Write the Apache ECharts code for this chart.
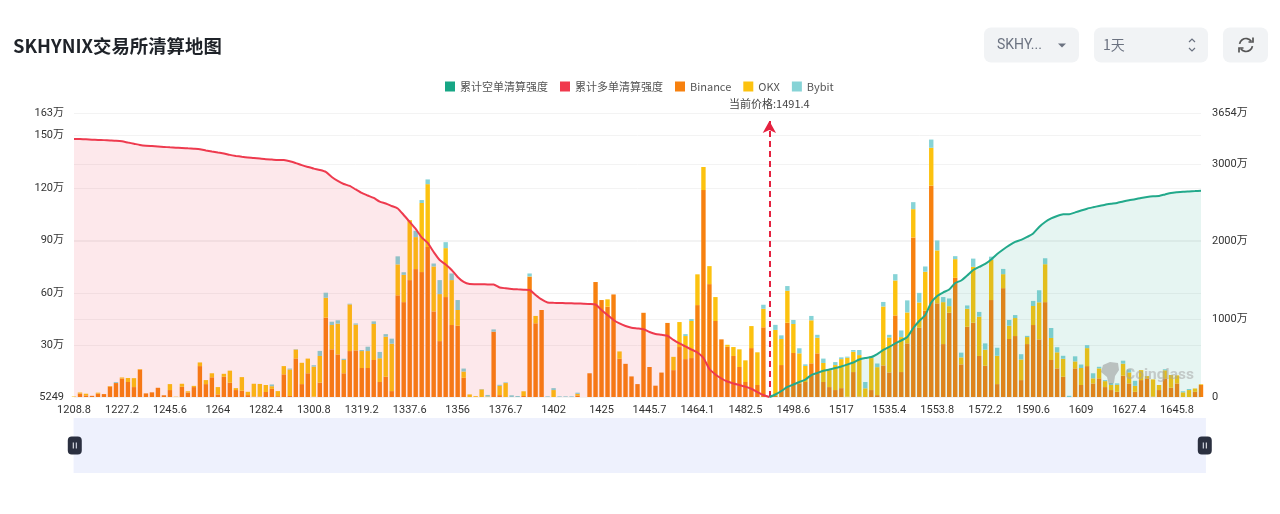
<!DOCTYPE html>
<html>
<head>
<meta charset="utf-8">
<title>SKHYNIX交易所清算地图</title>
<style>
html,body{margin:0;padding:0;background:#fff}
#chart{width:1280px;height:514px}
</style>
<script src="https://cdn.jsdelivr.net/npm/echarts@6/dist/echarts.min.js"></script>
</head>
<body>
<div id="chart"></div>
<script>
// Liquidation price levels
const prices = [
1208.8,1211.1,1213.4,1215.7,1218,1220.3,1222.6,1224.9,
1227.2,1229.5,1231.8,1234.1,1236.4,1238.7,1241,1243.3,
1245.6,1247.9,1250.2,1252.5,1254.8,1257.1,1259.4,1261.7,
1264,1266.3,1268.6,1270.9,1273.2,1275.5,1277.8,1280.1,
1282.4,1284.7,1287,1289.3,1291.6,1293.9,1296.2,1298.5,
1300.8,1303.1,1305.4,1307.7,1310,1312.3,1314.6,1316.9,
1319.2,1321.5,1323.8,1326.1,1328.4,1330.7,1333,1335.3,
1337.6,1339.9,1342.2,1344.5,1346.8,1349.1,1351.4,1353.7,
1356,1358.3,1360.6,1362.9,1365.2,1367.5,1369.8,1374.4,
1376.7,1379,1381.3,1383.6,1385.9,1390.5,1395.1,1399.7,
1402,1404.3,1406.6,1408.9,1413.5,1415.8,1420.4,1422.7,
1425,1427.3,1429.6,1431.9,1436.5,1438.8,1441.1,1443.4,
1445.7,1448,1450.3,1452.6,1454.9,1457.2,1459.5,1461.8,
1464.1,1466.4,1468.7,1471,1473.3,1475.6,1477.9,1480.2,
1482.5,1484.8,1487.1,1489.4,1491.4,1491.7,1494,1496.3,
1498.6,1500.9,1503.2,1505.5,1507.8,1510.1,1512.4,1514.7,
1517,1519.3,1521.6,1523.9,1526.2,1528.5,1530.8,1533.1,
1535.4,1537.7,1540,1542.3,1544.6,1546.9,1549.2,1551.5,
1553.8,1556.1,1558.4,1560.7,1563,1565.3,1567.6,1569.9,
1572.2,1574.5,1576.8,1579.1,1581.4,1583.7,1586,1588.3,
1590.6,1592.9,1595.2,1597.5,1599.8,1602.1,1604.4,1606.7,
1609,1611.3,1613.6,1615.9,1618.2,1620.5,1622.8,1625.1,
1627.4,1629.7,1632,1634.3,1636.6,1638.9,1641.2,1643.5,
1645.8,1648.1,1650.4,1652.7,1655
];
const currentPrice = 1491.4;
const priceMarkerTop = 3552;

// Liquidation strength per exchange, in units of 万
const binance = [
.5,2.5,1.4,1.2,2.5,2.2,6.5,8.5,11.1,9.1,6.2,16.2,2.6,3.2,5.8,1.5,4.5,.5,6.4,3.1,
6.2,18.2,7.9,11.8,2,12.1,8.7,4.5,4.1,1.6,.8,.8,3.4,5.2,1,13.5,1.1,22.6,7.9,14.1,
.7,8.7,45.9,27.8,24.9,14.1,26.8,27.2,17.1,17.1,21.7,9.1,12.1,3.9,58.7,54.8,67.4,73.7,72,86.3,
49.5,32.5,57.7,41.7,41.3,11.5,.5,.5,.5,.5,37.9,1.6,.5,.5,.5,1.1,69.3,42.7,50.3,.5,
.5,.5,.5,.5,1.4,.5,14.1,66.3,56,52.2,59.2,22.4,19.5,12.3,7.9,48.7,17.7,7,14.5,42.9,
15.9,29.1,22.2,22.8,53.1,118.9,65.1,44,33.5,29.3,24,17.7,9.1,28.5,7.4,40.4,.5,1.1,18.8,43,
25.7,8.3,9.1,19.8,25.5,9.1,6.2,4.5,5.6,.7,14.8,.8,.5,4.5,1.6,18.6,14.6,47.2,14.8,31.2,
91.8,40.1,49.9,121.4,54.1,30.8,48.7,68.7,19.2,40.7,43,24,18.4,56,7.9,62.8,33.7,35.4,10.2,30.8,
41.7,33.5,54.8,21.7,16.9,12.1,.5,16.9,7.4,18.2,8.3,11.2,6.2,4.5,3.5,12.7,8.3,3.5,10.2,11.2,
.8,4.5,11.2,5.8,8.3,.5,.5,3.5,7.4
];
const okx = [
.3,.6,1,0,.5,0,.3,.1,.6,2.3,5.1,.3,0,0,0,0,3.4,.2,1.7,.7,
.7,2.1,2.3,2.3,4.2,1.7,6.9,1.1,7.8,1.9,7.3,7.2,4,1.5,2.9,4.7,15.2,5.1,12.2,8.4,
17.2,15.3,11.4,13.9,17.6,7.6,26.7,14.7,9.7,9.7,20.6,13.6,22.9,27.1,17.7,15.6,34.3,18.3,39.5,36,
25.7,26.9,28,25.7,9,3.6,1.5,.5,4.4,.3,0,5.3,8,0,0,2.7,.2,4.2,0,0,
4,0,0,0,.9,0,0,0,0,4.2,0,4.2,0,0,0,0,0,0,0,0,
7.6,14.3,13.2,21.2,17.6,13.2,10.3,13.7,0,1.1,5.1,10.1,12.4,12.6,18.7,10.6,0,37.8,14.9,18.3,
16.6,17.2,9.2,24.6,8.9,10.9,9.7,14.3,16.6,22.3,11.6,23.7,5,18.3,16,33.7,20,20,20,17.7,
16.2,14.5,22.3,21.7,30.3,24,3.8,10.7,4,10.3,32,22.5,9.2,22.9,16.2,8,7.6,10.3,11.8,4,
10.9,21.2,21.7,12.6,9.2,10.3,0,4,9.7,10.3,2.9,5.7,3.4,2.9,4,6.9,6.3,3.4,5.7,1.3,
9.8,2.9,4.6,7.3,4.6,2.7,4,1.9,.4
];
const bybit = [
0,0,0,0,0,0,0,.5,0,0,0,0,0,0,0,0,0,0,0,0,
0,0,0,0,0,0,0,0,0,0,0,0,0,1,0,0,.5,.2,0,0,
.8,2.9,2.9,1.9,1.9,.7,.4,.7,.6,2.5,1.5,3.6,1.5,2.9,4.6,1.5,0,3.6,1.7,2.7,
1.7,8,3.4,3.8,5.7,1.7,0,0,.2,.9,1.3,.6,.4,1,.6,0,1.7,0,0,.4,
1.1,.4,.4,.4,.7,0,0,0,0,0,0,0,0,0,0,0,0,0,0,0,
0,0,1.1,1.1,0,0,0,0,0,0,0,0,0,0,0,2.3,0,2.9,2.1,2.7,
2.3,2.9,.9,2.5,1.7,2.5,0,1.7,1,.6,1,2.9,3.6,1,2.1,2.6,1.5,3.6,3.8,6.9,
4,5.5,3,4.7,5.7,2.9,4.4,1.7,2.7,1.9,4.7,2.7,3.6,1.9,4.6,3,3.3,1.7,3,.7,
2.9,6.9,3.4,5.7,2.9,1.7,.7,2.9,2,1.7,2.9,.9,.6,1.1,.8,1.7,1.7,2.9,0,0,
0,0,.6,0,0,.6,.6,0,0
];

// Cumulative long liquidation strength (left of the current price), in 万
const longCumulative = [
3320,3318,3315,3311,3308,3305,3301,3297,3290,3274,3259,3243,3233,3228,3223,3218,3212,3208,3205,3199,
3194,3188,3172,3158,3145,3133,3115,3102,3091,3082,3076,3068,3060,3055,3050,3048,3033,3009,2983,2960,
2938,2921,2896,2831,2780,2741,2716,2670,2625,2593,2561,2513,2490,2458,2426,2342,2252,2162,2053,1982,
1866,1763,1705,1634,1544,1480,1454,1452,1450,1449,1447,1409,1399,1390,1385,1381,1377,1313,1255,1216,
1212,1210,1207,1205,1203,1201,1198,1190,1120,1055,991,946,914,891,882,871,837,811,801,788,
734,689,650,611,573,502,360,290,238,199,174,154,133,106,64,26,0
];
// Cumulative short liquidation strength (right of the current price), in 万
const shortCumulative = [
0,32,77,129,161,193,225,283,309,338,354,373,393,418,444,483,502,515,553,605,
644,689,727,772,888,978,1055,1216,1300,1345,1384,1467,1499,1564,1634,1673,1712,1770,1840,1898,
1950,1995,2021,2059,2104,2188,2252,2297,2329,2351,2352,2375,2400,2423,2441,2458,2474,2486,2497,2516,
2532,2544,2561,2574,2583,2587,2606,2625,2634,2641,2645,2649,2655
];

const leftMin = 0.5249, leftMax = 163, rightMax = 3654;
const leftTicks = [leftMin, 30, 60, 90, 120, 150, leftMax];
const rightTicks = [0, 1000, 2000, 3000, rightMax];

const tickFont = 'Roboto, "Noto Sans CJK SC", sans-serif';
const labelColor = '#333';
const categories = prices.map(String);
const shortPadded = new Array(prices.length - shortCumulative.length).fill(null).concat(shortCumulative);

const leftLabel = v => v < 1 ? String(Math.round(v * 10000)) : v + '万';
const rightLabel = v => v === 0 ? '0' : v + '万';

const barSeries = (name, data, color) => ({
  name, type: 'bar', stack: 'exchanges', yAxisIndex: 0, data,
  barWidth: 4.4, itemStyle: { color }, z: 2, animation: false
});
const splitLine = { show: true, lineStyle: { color: '#f3f3f3', width: 1 } };

// Toolbar controls above the chart
const controlBg = '#f1f3f5', controlText = '#6b7280';
const toolbar = [
  { type: 'rect', shape: { x: 984, y: 27.5, width: 95, height: 35, r: 7 }, style: { fill: controlBg } },
  { type: 'text', style: { x: 997, y: 45, text: 'SKHY...', fill: controlText, font: '14px Roboto, sans-serif', verticalAlign: 'middle' } },
  { type: 'polygon', shape: { points: [[1058, 43.5], [1066, 43.5], [1062, 47.5]] }, style: { fill: '#6b7280' } },
  { type: 'rect', shape: { x: 1094, y: 27.5, width: 114, height: 35, r: 7 }, style: { fill: controlBg } },
  { type: 'text', style: { x: 1103, y: 45, text: '1天', fill: controlText, font: '14px "Noto Sans CJK SC", sans-serif', verticalAlign: 'middle' } },
  { type: 'polyline', shape: { points: [[1189, 42], [1192, 39], [1195, 42]] }, style: { stroke: '#6b7280', fill: 'none', lineWidth: 1.2 } },
  { type: 'polyline', shape: { points: [[1189, 48], [1192, 51], [1195, 48]] }, style: { stroke: '#6b7280', fill: 'none', lineWidth: 1.2 } },
  { type: 'rect', shape: { x: 1223, y: 27.5, width: 45, height: 35, r: 7 }, style: { fill: controlBg } },
  // Refresh icon: two arcs with arrow heads
  { type: 'arc', shape: { cx: 1246, cy: 45, r: 6.5, startAngle: Math.PI * 1.05, endAngle: Math.PI * 1.8 }, style: { stroke: '#555', fill: 'none', lineWidth: 1.7 } },
  { type: 'arc', shape: { cx: 1246, cy: 45, r: 6.5, startAngle: Math.PI * 0.05, endAngle: Math.PI * 0.8 }, style: { stroke: '#555', fill: 'none', lineWidth: 1.7 } },
  { type: 'polyline', shape: { points: [[1253, 37.5], [1253, 42], [1248.5, 42]] }, style: { stroke: '#555', fill: 'none', lineWidth: 1.7 } },
  { type: 'polyline', shape: { points: [[1239, 52.5], [1239, 48], [1243.5, 48]] }, style: { stroke: '#555', fill: 'none', lineWidth: 1.7 } },
  // Brand watermark
  { type: 'polygon', z: 100, shape: { points: [[1103, 365], [1110, 362], [1118, 363], [1119, 370], [1115, 376], [1114, 383], [1109, 385], [1107, 377], [1101, 372]] },
    style: { fill: 'rgba(150,150,150,0.55)' } },
  { type: 'text', z: 100, style: { x: 1125, y: 375, text: 'Coinglass', fill: 'rgba(165,165,165,0.55)', font: 'bold 15.5px Roboto, sans-serif', verticalAlign: 'middle' } }
];

const chart = echarts.init(document.getElementById('chart'), null, { renderer: 'canvas' });
chart.setOption({
  backgroundColor: '#fff',
  animation: false,
  title: {
    text: 'SKHYNIX交易所清算地图', left: 8, top: 32,
    textStyle: { fontSize: 18.4, fontWeight: 'bold', color: '#1f2329', fontFamily: '"Noto Sans CJK SC", sans-serif' }
  },
  legend: {
    data: ['累计空单清算强度', '累计多单清算强度', 'Binance', 'OKX', 'Bybit'],
    top: 76, left: 440, itemWidth: 10, itemHeight: 10, itemGap: 12, icon: 'rect',
    textStyle: { fontSize: 11, color: '#555', fontFamily: '"Noto Sans CJK SC", Roboto, sans-serif' }
  },
  grid: { left: 74, right: 79, top: 113, bottom: 117, containLabel: false },
  xAxis: {
    type: 'category', data: categories, boundaryGap: false,
    axisLine: { show: false }, axisTick: { show: false }, splitLine: { show: false },
    axisLabel: { interval: i => i % 8 === 0, margin: 8, fontSize: 11, color: labelColor, fontFamily: tickFont, hideOverlap: false }
  },
  yAxis: [
    {
      type: 'value', position: 'left', min: leftMin, max: leftMax,
      axisLine: { show: false }, axisTick: { show: false, customValues: leftTicks }, splitLine,
      axisLabel: { customValues: leftTicks, formatter: leftLabel, margin: 10, fontSize: 11, color: labelColor, fontFamily: tickFont }
    },
    {
      type: 'value', position: 'right', min: 0, max: rightMax,
      axisLine: { show: false }, axisTick: { show: false, customValues: rightTicks }, splitLine,
      axisLabel: { customValues: rightTicks, formatter: rightLabel, margin: 11, fontSize: 11, color: labelColor, fontFamily: tickFont }
    }
  ],
  dataZoom: [{
    type: 'slider', xAxisIndex: 0, start: 0, end: 100,
    left: 73, right: 75, top: 418, height: 55,
    backgroundColor: '#eef1fd', fillerColor: 'rgba(238,241,253,1)', borderColor: 'transparent',
    showDetail: false, showDataShadow: false, moveHandleSize: 0, brushSelect: false,
    handleIcon: 'path://M4 0H10A4 4 0 0 1 14 4V14A4 4 0 0 1 10 18H4A4 4 0 0 1 0 14V4A4 4 0 0 1 4 0Z M5 6V12H6V6Z M8 6V12H9V6Z',
    handleSize: 18, handleStyle: { color: '#2b3040', borderColor: '#2b3040', borderWidth: 0 },
    emphasis: { handleStyle: { color: '#2b3040' } }
  }],
  series: [
    barSeries('Binance', binance, '#f7810f'),
    barSeries('OKX', okx, '#fcc20f'),
    barSeries('Bybit', bybit, '#86d3d6'),
    {
      name: '累计空单清算强度', type: 'line', yAxisIndex: 1, data: shortPadded, z: 5,
      showSymbol: false, symbol: 'none', smooth: 0.2, connectNulls: false,
      itemStyle: { color: '#17a685' }, lineStyle: { color: '#22a98b', width: 2 },
      areaStyle: { color: 'rgb(23,166,133)', opacity: 0.11 }
    },
    {
      name: '累计多单清算强度', type: 'line', yAxisIndex: 1, data: longCumulative, z: 5,
      showSymbol: false, symbol: 'none', smooth: 0.2, connectNulls: false,
      itemStyle: { color: '#f0394d' }, lineStyle: { color: '#ee3a4e', width: 2 },
      areaStyle: { color: 'rgb(240,57,77)', opacity: 0.115 },
      markLine: {
        silent: true, animation: false, precision: 1,
        symbol: ['none', 'arrow'], symbolSize: [10, 12],
        lineStyle: { color: '#e5213f', type: [6, 4], width: 2 },
        label: { position: 'end', formatter: '当前价格:' + currentPrice, fontSize: 11, color: '#444',
                 fontFamily: '"Noto Sans CJK SC", Roboto, sans-serif', distance: 12 },
        data: [[
          { xAxis: String(currentPrice), yAxis: 0 },
          { xAxis: String(currentPrice), yAxis: priceMarkerTop }
        ]]
      }
    }
  ],
  graphic: { elements: toolbar }
});
</script>
</body>
</html>
